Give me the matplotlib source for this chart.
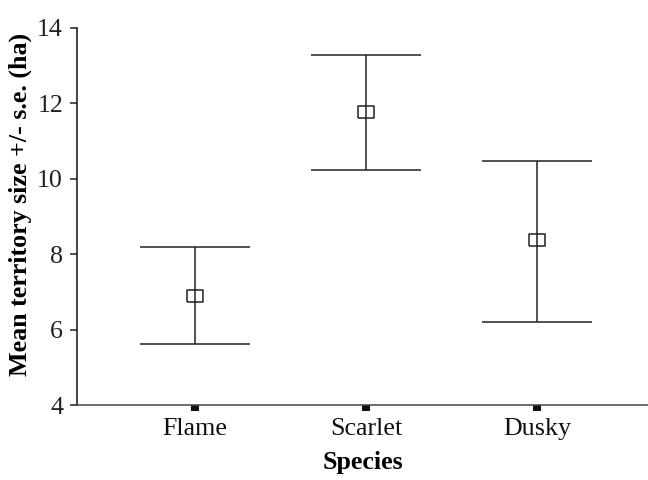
import matplotlib
matplotlib.use('Agg')
import matplotlib.pyplot as plt

# Datos
species = ["Flame", "Scarlet", "Dusky"]
mean_size = [6.90, 11.77, 8.38]
lower_se = [5.61, 10.22, 6.20]
upper_se = [8.19, 13.28, 10.47]

plt.rcParams['font.family'] = ['Liberation Serif', 'DejaVu Serif']

x = [1, 2, 3]
err_lo = [m - l for m, l in zip(mean_size, lower_se)]
err_hi = [u - m for m, u in zip(mean_size, upper_se)]

fig = plt.figure(figsize=(6.48, 4.8), dpi=100)
ax = fig.add_axes([0.1188, 0.156, 0.8812, 0.786])

# rectangulo un poco mas ancho que alto
rect = [(-1.3, -1), (1.3, -1), (1.3, 1), (-1.3, 1), (-1.3, -1)]
ax.errorbar(x, mean_size, yerr=[err_lo, err_hi], fmt='none', ecolor='#222222',
            elinewidth=1.1, capsize=39.6, capthick=1.1)
ax.plot(x, mean_size, linestyle='none', marker=rect, markersize=11.5,
        markerfacecolor='none', markeredgecolor='#222222', markeredgewidth=1.1)

ax.set_xlim(0.31, 3.65)
ax.set_ylim(4, 14)
ax.set_yticks([4, 6, 8, 10, 12, 14])
ax.set_xticks(x)
ax.set_xticklabels(species)

for s in ['top', 'right']:
    ax.spines[s].set_visible(False)
ax.spines['left'].set_color('#111111')
ax.spines['bottom'].set_color('#444444')
ax.spines['left'].set_linewidth(1.1)
ax.spines['bottom'].set_linewidth(1.1)

ax.tick_params(axis='y', direction='out', length=5, width=1.1, pad=5,
               labelsize=18.7, colors='#222222')
ax.tick_params(axis='x', direction='out', length=4.5, width=5.8, pad=5,
               labelsize=18.7, colors='#111111')

ax.set_xlabel("Species", fontweight="bold", fontsize=18.7, labelpad=8)
ax.set_ylabel("Mean territory size +/- s.e. (ha)", fontweight="bold",
              fontsize=18.7)
ax.yaxis.set_label_coords(-0.079, 0.532)

fig.savefig('out.png', dpi=100)
